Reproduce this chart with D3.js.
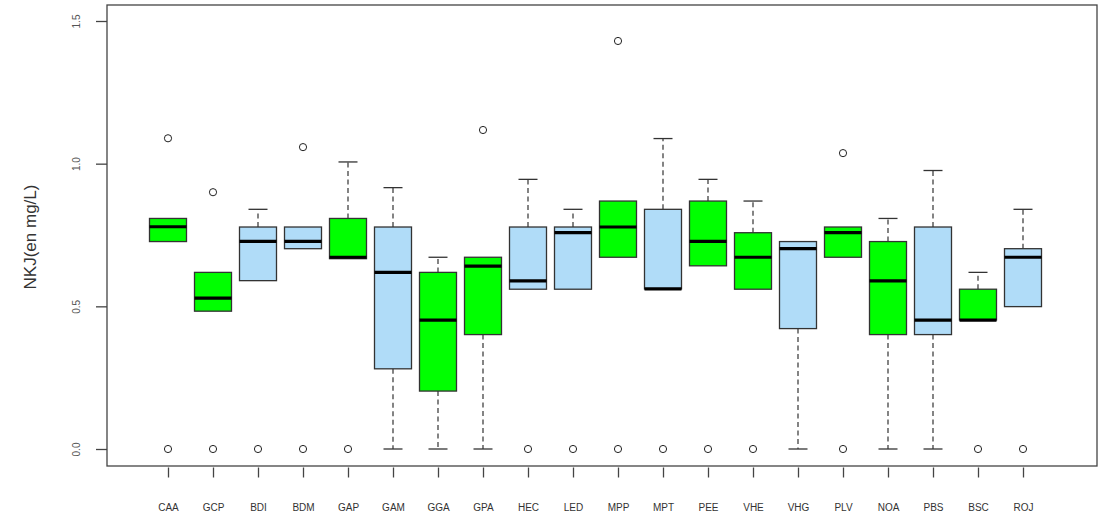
<!DOCTYPE html>
<html>
<head>
<meta charset="utf-8">
<script src="https://cdn.jsdelivr.net/npm/d3@7/dist/d3.min.js"></script>
<style>
  html, body { margin: 0; padding: 0; background: #fff; }
  svg { display: block; }
  text { font-family: "Liberation Sans", Arial, sans-serif; }
</style>
</head>
<body>
<svg id="chart" width="1099" height="513"></svg>
<script>
// ---- data ----
const categories = ["CAA","GCP","BDI","BDM","GAP","GAM","GGA","GPA","HEC","LED","MPP","MPT","PEE","VHE","VHG","PLV","NOA","PBS","BSC","ROJ"];
const groups     = ["g","g","b","b","g","b","g","g","b","b","g","b","g","g","b","g","g","b","g","b"];
const whiskerLow = [0.727,0.483,0.590,0.702,0.667,0.0,0.0,0.0,0.560,0.560,0.672,0.561,0.642,0.560,0.0,0.672,0.0,0.0,0.452,0.499];
const q1         = [0.727,0.483,0.590,0.702,0.667,0.281,0.203,0.401,0.560,0.560,0.672,0.561,0.642,0.560,0.422,0.672,0.401,0.401,0.452,0.499];
const medians    = [0.779,0.529,0.728,0.728,0.672,0.619,0.452,0.641,0.589,0.758,0.778,0.561,0.728,0.672,0.702,0.758,0.589,0.452,0.452,0.672];
const q3         = [0.808,0.619,0.778,0.778,0.808,0.778,0.619,0.672,0.778,0.778,0.869,0.840,0.869,0.758,0.727,0.778,0.727,0.778,0.560,0.702];
const whiskerHigh= [0.808,0.619,0.840,0.778,1.006,0.916,0.672,0.672,0.945,0.840,0.869,1.088,0.945,0.869,0.727,0.778,0.808,0.976,0.619,0.840];
const outliers   = [[0,1.089],[0,0.900],[0],[0,1.058],[0],[],[],[1.118],[0],[0],[0,1.430],[0],[0],[0],[],[0,1.037],[],[],[0],[0]];
const yTicks = [0.0, 0.5, 1.0, 1.5];
const yTickLabels = ["0.0","0.5","1.0","1.5"];
const yLabel = "NKJ(en mg/L)";
const colors = { g: "#00ff00", b: "#b0dcf8" };

// ---- layout ----
const svg = d3.select("#chart");
const frame = { left: 107, right: 1097, top: 5, bottom: 466 };
const x = d3.scaleLinear().domain([0, categories.length - 1]).range([168, 1023]);
const y = d3.scaleLinear().domain([0, 1.5]).range([449, 21]);
const boxW = 37, capW = 19;

// frame
svg.append("rect")
  .attr("x", frame.left).attr("y", frame.top)
  .attr("width", frame.right - frame.left).attr("height", frame.bottom - frame.top)
  .attr("fill", "none").attr("stroke", "#444").attr("stroke-width", 1.3);

// y axis
const yAxis = svg.append("g").attr("transform", `translate(${frame.left},0)`)
  .call(d3.axisLeft(y).tickValues(yTicks).tickSize(11).tickFormat((d, i) => yTickLabels[i]));
yAxis.select(".domain").remove();
yAxis.selectAll(".tick line").attr("stroke", "#444").attr("stroke-width", 1.3);
yAxis.selectAll(".tick text")
  .attr("font-size", 10).attr("fill", "#555")
  .attr("transform", "rotate(-90)")
  .attr("x", 0).attr("y", -30).attr("dy", "0.32em")
  .attr("text-anchor", "middle");

// x axis
const xAxis = svg.append("g").attr("transform", `translate(0,${frame.bottom + 1.5})`)
  .call(d3.axisBottom(x).tickValues(d3.range(categories.length)).tickSize(10).tickPadding(26)
    .tickFormat(i => categories[i]));
xAxis.select(".domain").remove();
xAxis.selectAll(".tick line").attr("stroke", "#444").attr("stroke-width", 1.3);
xAxis.selectAll(".tick text").attr("font-size", 10).attr("fill", "#333");

// y label
svg.append("text")
  .attr("transform", `translate(36,${(y(0) + y(1.5)) / 2 + 2}) rotate(-90)`)
  .attr("text-anchor", "middle")
  .attr("font-size", 17).attr("fill", "#333")
  .text(yLabel);

// boxes
const g = svg.append("g");
categories.forEach((c, i) => {
  const cx = x(i);
  const dash = "5,3.5";
  if (whiskerHigh[i] > q3[i]) {
    g.append("line").attr("x1", cx).attr("x2", cx).attr("y1", y(q3[i])).attr("y2", y(whiskerHigh[i]))
      .attr("stroke", "#333").attr("stroke-width", 1.2).attr("stroke-dasharray", dash);
    g.append("line").attr("x1", cx - capW / 2).attr("x2", cx + capW / 2)
      .attr("y1", y(whiskerHigh[i])).attr("y2", y(whiskerHigh[i]))
      .attr("stroke", "#333").attr("stroke-width", 1.3);
  }
  if (whiskerLow[i] < q1[i]) {
    g.append("line").attr("x1", cx).attr("x2", cx).attr("y1", y(q1[i])).attr("y2", y(whiskerLow[i]))
      .attr("stroke", "#333").attr("stroke-width", 1.2).attr("stroke-dasharray", dash);
    g.append("line").attr("x1", cx - capW / 2).attr("x2", cx + capW / 2)
      .attr("y1", y(whiskerLow[i])).attr("y2", y(whiskerLow[i]))
      .attr("stroke", "#333").attr("stroke-width", 1.3);
  }
  g.append("rect")
    .attr("x", cx - boxW / 2).attr("y", y(q3[i]))
    .attr("width", boxW).attr("height", Math.max(1, y(q1[i]) - y(q3[i])))
    .attr("fill", colors[groups[i]]).attr("stroke", "#333").attr("stroke-width", 1.3);
  g.append("line").attr("x1", cx - boxW / 2).attr("x2", cx + boxW / 2)
    .attr("y1", y(medians[i])).attr("y2", y(medians[i]))
    .attr("stroke", "#000").attr("stroke-width", 3.2);
  outliers[i].forEach(v => {
    g.append("circle").attr("cx", cx).attr("cy", y(v)).attr("r", 3.6)
      .attr("fill", "none").attr("stroke", "#222").attr("stroke-width", 1);
  });
});
</script>
</body>
</html>
